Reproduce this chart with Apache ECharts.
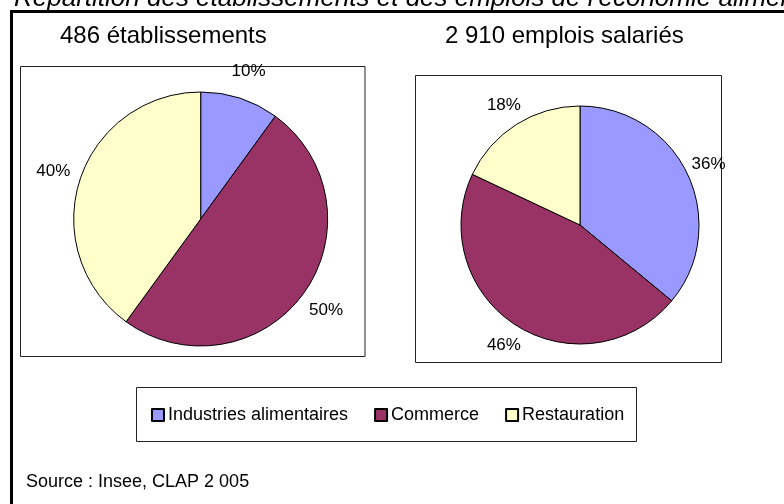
<!DOCTYPE html>
<html lang="fr">
<head>
<meta charset="utf-8">
<title>Répartition des établissements et des emplois</title>
<script src="https://cdn.jsdelivr.net/npm/echarts@6/dist/echarts.min.js"></script>
<style>
  html, body { margin: 0; padding: 0; background: #fff; }
  #chart { width: 784px; height: 504px; }
</style>
</head>
<body>
<div id="chart"></div>
<script>
// Secteurs de l'économie alimentaire
const categories = ['Industries alimentaires', 'Commerce', 'Restauration'];
// Parts des établissements (%)
const etabShares = [10, 50, 40];
// Parts des emplois salariés (%)
const emploiShares = [36, 46, 18];
const panelTitles = ['486 établissements', '2 910 emplois salariés'];
const mainTitle = "Répartition des établissements et des emplois de l'économie alimentaire";
const sourceText = 'Source : Insee, CLAP 2 005';

const sectorColors = ['#9999FF', '#993366', '#FFFFCC'];
const FONT = '"Liberation Sans", Arial, sans-serif';

function toData(values) {
  return values.map((v, i) => ({ name: categories[i], value: v }));
}

// Filled pie with black slice outlines
function piePart(values, center, radius) {
  return {
    type: 'pie',
    center: center,
    radius: radius,
    startAngle: 90,
    clockwise: true,
    silent: true,
    label: { show: false },
    labelLine: { show: false },
    itemStyle: { borderColor: '#000', borderWidth: 1 },
    data: toData(values)
  };
}

// Invisible ring around a pie that carries the percentage labels
function labelRing(values, center, ring) {
  return {
    type: 'pie',
    center: center,
    radius: ring,
    startAngle: 90,
    clockwise: true,
    silent: true,
    legendHoverLink: false,
    itemStyle: { color: 'rgba(0,0,0,0)', borderWidth: 0 },
    emphasis: { disabled: true },
    label: {
      show: true,
      position: 'inside',
      formatter: '{c}%',
      color: '#000',
      fontFamily: FONT,
      fontSize: 17
    },
    labelLine: { show: false },
    data: toData(values)
  };
}

const chart = echarts.init(document.getElementById('chart'), null, { renderer: 'canvas' });

const frames = [
  { x: 11.5, y: 11.5, width: 900, height: 600, lw: 3, color: '#000' },
  { x: 20.5, y: 66.5, width: 344.5, height: 290, lw: 1, color: '#222' },
  { x: 415.5, y: 75.5, width: 306, height: 287, lw: 1, color: '#222' },
  { x: 136.5, y: 387.5, width: 500, height: 54, lw: 1, color: '#222' }
];

const texts = [
  { text: mainTitle, x: 14, y: -1, size: 26, italic: true },
  { text: panelTitles[0], x: 60, y: 36.5, size: 24 },
  { text: panelTitles[1], x: 445, y: 36.5, size: 24 },
  { text: sourceText, x: 26, y: 482.5, size: 18 }
];

chart.setOption({
  backgroundColor: '#fff',
  animation: false,
  color: sectorColors,
  graphic: [
    ...frames.map(f => ({
      type: 'rect',
      z: -1,
      shape: { x: f.x, y: f.y, width: f.width, height: f.height },
      style: { fill: 'none', stroke: f.color, lineWidth: f.lw }
    })),
    ...texts.map(t => ({
      type: 'text',
      x: t.x,
      y: t.y,
      style: {
        text: t.text,
        fill: '#000',
        font: (t.italic ? 'italic ' : '') + t.size + 'px ' + FONT,
        verticalAlign: 'middle',
        align: 'left'
      }
    }))
  ],
  legend: {
    data: categories,
    left: 151,
    top: 406,
    padding: 0,
    itemGap: 26,
    itemWidth: 12,
    itemHeight: 12,
    icon: 'rect',
    selectedMode: false,
    textStyle: { color: '#000', fontFamily: FONT, fontSize: 18, padding: [0, 0, 0, -1] }
  },
  series: [
    piePart(etabShares, [200.7, 219], 127),
    piePart(emploiShares, [580, 225], 119),
    labelRing(etabShares, [200.7, 219], [141, 163]),
    labelRing(emploiShares, [580, 225], [128, 150])
  ]
});
</script>
</body>
</html>
